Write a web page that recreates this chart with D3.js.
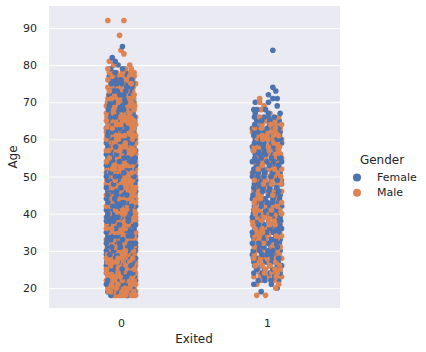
<!DOCTYPE html>
<html>
<head>
<meta charset="utf-8">
<script src="https://cdnjs.cloudflare.com/ajax/libs/d3/7.8.5/d3.min.js"></script>
<style>
  html, body { margin: 0; padding: 0; background: #fff; }
  text { font-family: "DejaVu Sans", sans-serif; fill: #262626; }
</style>
</head>
<body>
<svg id="chart" width="426" height="352"></svg>
<script>
// each row: age, then the horizontal jitter of every customer of that age (hundredths of a category)
const femaleStayed = [
  [18,-7,4],[19,-9,-3,6,9],[20,-8,-2,3,8],[21,-10,-5,1,7],[22,-9,-4,2,5,10],[23,-7,-1,4,9],[24,-10,-6,0,6,8],
  [25,-8,-3,3,7],[26,-10,-5,-1,5,9],[27,-7,-2,2,8],[28,-9,-6,1,4,10],[29,-10,-3,3,6,9],[30,-8,-5,0,5,8],
  [31,-9,-2,2,7,10],[32,-10,-6,-1,4,8],[33,-7,-3,1,6,9],[34,-9,-5,3,5,10],[35,-10,-4,0,2,7],[36,-8,-6,-1,4,9],
  [37,-9,-3,1,6,8],[38,-10,-5,2,5,10],[39,-7,-2,0,3,7],[40,-9,-6,-1,4,8],[41,-10,-4,1,6,9],[42,-8,-3,2,5,10],
  [43,-9,-5,0,3,7],[44,-10,-2,1,6,8],[45,-7,-6,-1,4,9],[46,-9,-3,2,5,10],[47,-10,-4,0,3,7],[48,-8,-5,1,6,8],
  [49,-9,-2,3,4,10],[50,-10,-6,-1,5,9],[51,-7,-3,0,2,7],[52,-9,-4,1,6,8],[53,-10,-5,3,4,10],[54,-8,-2,-1,5,9],
  [55,-9,-6,2,7],[56,-10,-3,0,4,8],[57,-7,-4,1,6,10],[58,-9,-1,3,8],[59,-10,-5,2,5],[60,-8,-2,0,7,9],
  [61,-9,-4,3,6],[62,-6,-1,2,8],[63,-10,-3,4,9],[64,-8,-5,1,6],[65,-9,-2,3,7],[66,-7,0,5,9],[67,-9,-3,2,8],
  [68,-6,-1,4],[69,-8,1,6],[70,-5,-2,3,8],[71,-7,0,5],[72,-8,-3,2,7],[73,-5,1,6],[74,-7,-1,4],[75,-3,3,8],
  [76,-6,0,5],[77,-8,-2],[78,-4,3],[79,-7,1],[80,-5,-2],[81,-4],[82,-6],[85,1]
];
const femaleStayedMore = [
  [19,-6.5,1.5],[20,-5.2,6.1,0.4],[21,-2.7,4.3,9.1],[22,-7.1,-0.6,7.8],[23,-4.4,1.7,6.6],[24,-2.9,3.2,9.7],[25,-9.6,-5.4,0.8,9.3],
  [26,-7.3,2.4,7.1],[27,-9.8,-4.6,5.2],[28,-3.4,-1.2,7.4],[29,-7.7,-0.9,1.3],[30,-9.9,-2.6,2.8,9.6],[31,-6.3,-0.4,4.9],
  [32,-3.7,1.6,6.2,9.8],[33,-9.4,-5.1,3.6],[34,-7.2,-2.2,0.7,7.6],[35,-6.7,-1.8,4.6,9.2],[36,-3.6,1.9,6.8],[37,-6.1,-1.1,3.7,9.9],
  [38,-7.6,-2.4,0.3,7.7],[39,-9.7,-4.3,5.4,9.4],[40,-3.3,1.4,6.4],[41,-7.4,-1.7,3.9],[42,-5.6,-0.7,7.3],[43,-2.6,1.8,5.3,9.7],
  [44,-7.8,-4.4,3.4],[45,-9.1,-3.2,1.9,6.7],[46,-6.2,-0.6,7.2],[47,-7.3,-1.4,5.1,9.3],[48,-2.8,3.3,9.6],[49,-6.4,-0.3,6.9],
  [50,-3.8,1.2,7.3],[51,-9.6,-5.3,4.2,9.5],[52,-6.7,-1.6,3.1],[53,-7.2,-2.3,0.9,7.4],[54,-5.7,2.9,6.7],[55,-3.3,-0.8,4.8,9.7],
  [56,-7.4,-5.2,1.8,6.1],[57,-9.5,-1.7,3.8,8.4],[58,-6.3,-3.6,5.6],[59,-7.7,-0.4,7.6],[60,-4.9,2.6,4.7],[61,-6.8,-1.2,8.7],
  [62,-8.6,-3.7,4.4],[63,-6.3,-0.7,6.4],[64,-2.4,3.6,8.9],[65,-5.6,0.8,9.4],[66,-3.9,2.7,7.4],[67,-6.4,-0.6,5.3],[68,-8.7,1.8,7.6],
  [69,-4.6,-1.7,3.6],[70,-7.4,0.7,5.6],[71,-3.7,2.3,8.6],[72,-5.6,-0.8,4.7],[73,-7.6,-2.6,3.3],[74,-3.4,1.7,7.3],[75,-6.6,0.6],[76,-3.4,7.4],[77,4.6]
];
const maleStayed = [
  [18,-6,-4,-2,0,1,3,5,6,8,10],[19,-7,-5,-1,2,4,7,10],[20,-9,-6,-3,0,4,6,9],[21,-8,-4,-2,3,5,8,10],[22,-10,-7,-1,1,3,7,9],
  [23,-9,-5,-3,2,6,8,10],[24,-8,-4,-2,1,3,5,10],[25,-10,-6,-1,2,5,9],[26,-9,-7,-3,1,3,7,10],[27,-8,-5,0,4,6,10],
  [28,-10,-3,-2,3,6,8],[29,-9,-7,-1,1,5,7],[30,-10,-4,-2,2,3,7,10],[31,-7,-4,-1,1,4,5,9],[32,-8,-3,1,3,6,10],
  [33,-10,-5,-2,3,4,8],[34,-8,-7,-1,1,7,9],[35,-9,-6,-2,3,5,9,10],[36,-10,-3,1,3,6,7],[37,-8,-5,-1,3,5,10],
  [38,-9,-7,-2,0,3,8],[39,-10,-4,-1,1,5,9,10],[40,-8,-3,1,3,6,10],[41,-9,-7,-2,3,4,7],[42,-10,-5,-1,0,3,8],
  [43,-8,-3,-2,2,5,9,10],[44,-9,-6,-4,3,4,10],[45,-10,-3,1,3,6,8],[46,-8,-7,-1,0,7,9],[47,-9,-6,-2,1,5,10],
  [48,-10,-3,-1,3,4,9],[49,-8,-7,-4,1,6,8],[50,-9,-3,1,3,7,10],[51,-10,-5,-2,4,5,9],[52,-8,-6,-2,3,7,10],
  [53,-9,-7,-1,1,6,8],[54,-10,-4,-3,2,7,10],[55,-8,-3,-1,4,5,9],[56,-9,-6,-2,2,6,10],[57,-10,-5,-2,3,4,8],
  [58,-8,-6,-3,1,5,9],[59,-9,-3,-1,3,7,10],[60,-10,-6,-3,1,4,10],[61,-8,-5,-1,1,4,8,10],[62,-10,-4,-3,4,5,9],
  [63,-8,-6,-1,1,6,7],[64,-9,-3,0,3,8,10],[65,-10,-6,-1,1,5,9],[66,-8,-3,2,3,7,10],[67,-10,-5,-1,4,6],
  [68,-8,-3,1,3,9],[69,-10,-4,-2,4,8],[70,-7,-3,0,5,9],[71,-9,-1,2,6],[72,-6,-3,3,9],[73,-8,0,4,8],[74,-9,-2,2,6],
  [75,-7,-4,1,7,10],[76,-9,-1,4,8],[77,-6,2,6,9],[78,-8,-3,1,9],[79,-9,3,7],[80,-5,6],[81,-8],[83,2],[84,0],[88,-1],[92,-9,2]
];
const maleStayedMore = [
  [18,-5.1,-3.2,-0.9,2.1,4.2,7.1,9.1],[19,-8.4,-3.3,0.6,5.6,8.6,-6.2,3.1],[20,-7.6,-1.4,1.7,7.6,-4.6,2.9],[21,-9.6,-6.4,0.6,6.7,-0.8],
  [22,-5.4,-2.7,4.8,8.4],[23,-7.3,-0.6,3.7,4.6],[24,-9.7,-6.7,6.8,8.7],[25,-4.3,-2.6,3.6,7.3],[26,-5.6,-1.2,4.6,8.8],[27,-9.4,-2.7,1.8,7.7],
  [28,-7.4,-5.3,0.8,9.4],[29,-4.6,2.8,3.7,9.3],[30,-7.6,-0.7,5.4,8.6],[31,-9.3,-2.6,2.7,6.8],[32,-6.2,-1.3,4.7,8.4],[33,-7.4,-0.6,6.3,9.6],
  [34,-4.7,-2.8,2.9,4.7],[35,-7.7,-4.3,0.6,7.3],[36,-6.4,-1.6,4.4,8.6],[37,-9.7,-3.2,1.4,7.4],[38,-4.8,1.6,5.6,9.8],[39,-7.3,-2.7,3.2,7.3],
  [40,-5.6,-1.6,4.7,8.4],[41,-3.7,1.2,5.7,9.3],[42,-7.2,-2.8,4.6,9.7],[43,-5.7,-0.4,3.7,7.4],[44,-7.6,-1.6,1.4,7.3],[45,-8.6,-4.6,4.4,9.8],
  [46,-5.2,-2.7,3.2,5.2],[47,-7.4,-3.7,3.6,7.7],[48,-6.3,0.4,6.6,8.2],[49,-9.6,-1.8,2.6,9.7],[50,-5.4,-1.3,4.8,8.8],[51,-7.8,-3.2,1.7,7.4],
  [52,-9.7,-4.2,0.6,5.4],[53,-4.8,-2.8,3.4,9.4],[54,-7.4,-1.1,4.4,8.7],[55,-5.6,1.3,6.9,9.8],[56,-7.7,-4.4,0.3,7.8],[57,-8.4,-0.7,5.7,9.3],
  [58,-4.6,-1.3,3.3,7.4],[59,-6.6,-4.7,4.6,8.7],[60,-7.8,-1.7,2.7,7.8],[61,-9.6,-3.3,2.6,6.6],[62,-6.4,-1.3,1.7,7.3],[63,-9.7,-3.6,3.3,8.8],
  [64,-6.8,-1.7,5.2,7.4],[65,-8.4,-3.7,3.6,7.3],[66,-9.6,-5.3,-0.7,5.3],[67,-7.3,-2.6,1.8,8.4],[68,-5.7,-0.6,5.8,7.3],[69,-7.4,0.8,6.4,9.4],
  [70,-9.2,-1.4,3.3,7.3],[71,-6.6,-3.3,4.3,8.4],[72,-8.4,-0.6,5.7],[73,-5.3,2.3,6.2],[74,-6.4,0.4,8.3],[75,-2.6,4.2],[76,-6.3,2.4],[77,-3.6,-0.7],[78,-5.4,6.3]
];
const femaleLeft = [
  [19,-4],[20,7],[21,-9,3],[22,-6,8],[23,-2,5],[24,-9,2,9],[25,-7,4],[26,-4,7,10],[27,-9,-1],[28,-6,3,8],
  [29,-10,0,6],[30,-5,4,9],[31,-8,-2,7],[32,-10,1,5],[33,-6,3,9],[34,-8,-3,6],[35,-10,0,8],[36,-5,2,10],
  [37,-9,-2,4],[38,-7,1,7],[39,-10,-4,5,9],[40,-6,3,8],[41,-9,-1,6],[42,-4,2,10],[43,-8,0,7],[44,-10,-5,4],
  [45,-7,1,9],[46,-3,5,8],[47,-9,-6,2],[48,-5,0,10],[49,-8,3,7],[50,-10,-2,6],[51,-6,4,9],[52,-9,-3,1],
  [53,-7,5,8],[54,-10,0,10],[55,-4,3,7],[56,-8,-1,9],[57,-6,2,6],[58,-10,4,8],[59,-5,-2,10],[60,-8,1,7],
  [61,-9,-3,5],[62,-6,3,9],[63,-10,0,8],[64,-4,6],[65,-7,2],[66,-2,5],[67,-8,1,9],[68,-9,-7,-1],[69,7],[70,-8,1],
  [71,4,7],[72,1],[73,6],[74,4],[84,4]
];
const femaleLeftMore = [
  [22,2.7,-1.4],[24,-3.3,5.6],[25,-1.6,8.7],[26,-8.4,1.8],[27,3.4,7.7],[28,-2.6,-9.3],[29,-3.6,3.3],[30,-9.4,0.6],[31,2.7,-5.2],[32,-5.6,8.4],[33,-2.4,5.8],
  [34,-9.7,0.7],[35,-5.4,4.3],[36,-8.3,6.4],[37,-5.7,8.6],[38,-3.6,9.4],[39,-7.6,1.7],[40,-9.3,-2.3],[41,-5.3,2.6],[42,-8.6,6.3],[43,-3.7,3.6],[44,-1.4,8.6],
  [45,-9.6,5.2],[46,-7.4,1.3],[47,-2.6,6.6],[48,-8.7,3.4],[49,-3.4,9.7],[50,-6.2,2.8],[51,-9.4,-1.7],[52,5.6,8.7],[53,-3.4,1.6],[54,-6.4,4.6],[55,-8.3,9.4],
  [56,-4.6,4.4],[57,-9.4,-1.8],[58,-6.6,-2.4,1.7],[59,-8.6,3.3],[60,-3.8,9.3],[61,1.6,8.6],[62,-2.7,-8.7],[63,-5.6,4.3],[64,-8.4,1.7],[65,-3.6,8.3],[66,-8.6,1.3]
];
const maleLeft = [
  [18,-7,-1],[20,6],[21,-7,8],[22,-4,5],[23,-9,1,10],[24,-5,7],[25,-1,9],[26,-8,2],[27,-5,6],[28,-9,0,10],
  [29,-3,4],[30,-8,1,7],[31,-5,9],[32,-7,3],[33,-9,-1,7],[34,-5,1,10],[35,-3,4],[36,-8,-1,7],[37,-6,2,9],
  [38,-10,-4,5],[39,-2,2],[40,-8,0,10],[41,-5,3],[42,-8,-2,7],[43,-5,4,10],[44,-8,-1,8],[45,-4,4],[46,-9,0,10],
  [47,-3,7],[48,-8,3,7],[49,-5,-1,9],[50,-7,2,5],[51,-10,-1,7],[52,-6,5,10],[53,-3,2],[54,-8,-5,7],[55,-1,5,10],
  [56,-6,2],[57,-9,-3,8],[58,-6,1,5],[59,-8,2,7],[60,-3,4,10],[61,-6,0,8],[62,-10,3,6],[63,-4,1,9],[64,-8,6,10],
  [65,-1,3,8],[66,-5,8],[67,2],[68,-4],[69,-2],[70,-5],[71,-5]
];
const maleLeftMore = [
  [23,-4.6,6.3],[24,-1.7,3.3],[25,-6.3,5.4],[26,-3.4,8.6],[27,-8.3,1.6],[28,-4.3,6.7],[29,-8.6,8.4],[30,-3.3,4.4],[31,-8.7,3.4],[32,-2.3,8.3],[33,3.6,-5.7],
  [34,-8.4,6.3],[35,-6.6,8.7],[36,-3.4,3.7],[37,-9.6,5.6],[38,-7.3,1.3],[39,-6.7,7.4],[40,-4.3,5.3],[41,-8.6,8.8],[42,1.7,4.6],[43,-8.7,0.6],[44,-4.4,4.7],
  [45,-7.3,8.7],[46,-5.6,4.3],[47,-8.8,1.4],[48,-2.4,9.6],[49,-8.6,3.6],[50,-2.7,9.4],[51,-5.6,3.4],[52,-2.3,1.8],[53,-7.3,7.6],[54,-2.4,3.3],[55,-7.4,-3.6],
  [56,5.7,9.3],[57,-6.3,1.6],[58,-8.8,8.6],[59,-3.6,4.7],[60,-6.7,0.8],[61,-3.3,4.6],[62,-6.4,-0.7],[63,-8.6,5.7],[64,-3.3,2.4],[65,-6.6,5.3]
];

const genderLabels = ["Female", "Male"];
const exitedLabels = ["0", "1"];
const ageTicks = [20, 30, 40, 50, 60, 70, 80, 90];

const blue = "#4c72b0";
const orange = "#dd8452";
const margin = { top: 6, left: 49, bottom: 308, right: 340 };

const svg = d3.select("#chart");

const xScale = d3.scalePoint().domain(exitedLabels).range([121, 267]);
const yScale = d3.scaleLinear().domain([14.6, 95.9]).range([margin.bottom, margin.top]);

svg.append("rect")
  .attr("x", margin.left)
  .attr("y", margin.top)
  .attr("width", margin.right - margin.left)
  .attr("height", margin.bottom - margin.top)
  .attr("fill", "#eaeaf2");

// gridlines come from the y axis itself
const yAxis = svg.append("g")
  .attr("transform", `translate(${margin.left}, 0)`)
  .call(d3.axisLeft(yScale).tickValues(ageTicks).tickSize(-(margin.right - margin.left)).tickPadding(12));
yAxis.select(".domain").remove();
yAxis.selectAll("line").attr("stroke", "#fff").attr("stroke-width", 1);
yAxis.selectAll("text").style("font-size", "11px").attr("fill", "#262626");

const xAxis = svg.append("g")
  .attr("transform", `translate(0, ${margin.bottom})`)
  .call(d3.axisBottom(xScale).tickSize(0).tickPadding(11));
xAxis.select(".domain").remove();
xAxis.selectAll("text").style("font-size", "11px").attr("fill", "#262626");

function flatten(rows, exited, color) {
  const out = [];
  rows.forEach(row => {
    row.slice(1).forEach(j => out.push({ age: row[0], jitter: j, exited: exited, color: color }));
  });
  return out;
}

const points = [].concat(
  flatten(femaleStayed, "0", blue),
  flatten(maleStayed, "0", orange),
  flatten(femaleStayedMore, "0", blue),
  flatten(maleStayedMore, "0", orange),
  flatten(femaleLeft, "1", blue),
  flatten(maleLeft, "1", orange),
  flatten(femaleLeftMore, "1", blue),
  flatten(maleLeftMore, "1", orange)
);
// customers are in no particular order, so colours overlap each other at random
points.sort((a, b) => ((a.age * 37 + (a.jitter + 10) * 113) % 29) - ((b.age * 37 + (b.jitter + 10) * 113) % 29));

const bandWidth = xScale("1") - xScale("0");

svg.append("g")
  .selectAll("circle")
  .data(points)
  .join("circle")
  .attr("cx", d => xScale(d.exited) + d.jitter / 100 * bandWidth)
  .attr("cy", d => yScale(d.age))
  .attr("r", 2.8)
  .attr("fill", d => d.color);

svg.append("text")
  .attr("x", 194)
  .attr("y", 343)
  .attr("text-anchor", "middle")
  .style("font-size", "12px")
  .text("Exited");

svg.append("text")
  .attr("transform", "translate(17, 157) rotate(-90)")
  .attr("text-anchor", "middle")
  .style("font-size", "12px")
  .text("Age");

// legend
svg.append("text")
  .attr("x", 382)
  .attr("y", 164)
  .attr("text-anchor", "middle")
  .style("font-size", "12px")
  .text("Gender");

const legend = svg.selectAll(".legend-item")
  .data(genderLabels)
  .join("g")
  .attr("class", "legend-item")
  .attr("transform", (d, i) => `translate(357, ${177.5 + i * 15.3})`);

legend.append("circle")
  .attr("r", 4)
  .attr("fill", (d, i) => i === 0 ? blue : orange);

legend.append("text")
  .attr("x", 20)
  .attr("y", 3.5)
  .style("font-size", "11px")
  .text(d => d);
</script>
</body>
</html>
